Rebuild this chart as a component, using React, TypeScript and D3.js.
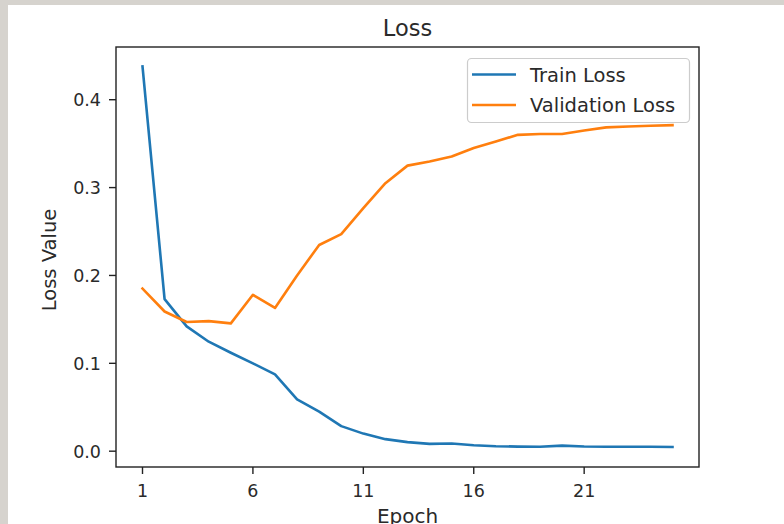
import React from "react";
import * as d3 from "d3";

const epochs = [1, 2, 3, 4, 5, 6, 7, 8, 9, 10, 11, 12, 13, 14, 15, 16, 17, 18, 19, 20, 21, 22, 23, 24, 25];
const trainLoss = [0.438, 0.173, 0.142, 0.1246, 0.112, 0.1, 0.0874, 0.059, 0.045, 0.0285, 0.02, 0.0137, 0.0103, 0.0083, 0.0087, 0.0068, 0.0057, 0.0052, 0.005, 0.0063, 0.0053, 0.005, 0.005, 0.005, 0.0048];
const valLoss = [0.185, 0.159, 0.147, 0.148, 0.1455, 0.178, 0.163, 0.2, 0.2347, 0.247, 0.2766, 0.305, 0.325, 0.3297, 0.3354, 0.345, 0.3525, 0.36, 0.361, 0.361, 0.365, 0.3685, 0.3696, 0.3704, 0.371];
const xTicks = [1, 6, 11, 16, 21];
const yTicks = [0.0, 0.1, 0.2, 0.3, 0.4];
const seriesNames = ["Train Loss", "Validation Loss"];
const seriesColors = ["#1f77b4", "#ff7f0e"];

const W = 784;
const H = 524;
const L = 116, R = 699, T = 47, B = 467;
const FONT = "'DejaVu Sans', sans-serif";
const TXT = "#2a2a2a";

export default function App() {
  const x = d3.scaleLinear().domain([-0.2, 26.2]).range([L, R]);
  const y = d3.scaleLinear().domain([-0.018, 0.46]).range([B, T]);
  const line = d3
    .line<number>()
    .x((_, i) => x(epochs[i]))
    .y((d) => y(d));
  const series = [trainLoss, valLoss];
  return (
    <svg
      width={W}
      height={H}
      style={{ position: "absolute", left: 0, top: 0 }}
      fontFamily={FONT}
    >
      <rect x={0} y={0} width={W} height={H} fill="#d6d3ce" />
      <rect x={8} y={5} width={W - 8} height={H - 5} fill="#ffffff" />
      <rect x={L} y={T} width={R - L} height={B - T} fill="#ffffff" />
      <defs>
        <clipPath id="clip">
          <rect x={L} y={T} width={R - L} height={B - T} />
        </clipPath>
      </defs>
      <g clipPath="url(#clip)">
        {series.map((s, i) => (
          <path
            key={i}
            d={line(s) || ""}
            fill="none"
            stroke={seriesColors[i]}
            strokeWidth={2.6}
            strokeLinejoin="round"
            strokeLinecap="square"
          />
        ))}
      </g>
      <rect x={L} y={T} width={R - L} height={B - T} fill="none" stroke="#222" strokeWidth={1.4} />
      {xTicks.map((t) => (
        <g key={t}>
          <line x1={x(t)} x2={x(t)} y1={B} y2={B + 7} stroke="#222" strokeWidth={1.4} />
          <text x={x(t)} y={496.5} textAnchor="middle" fontSize={17.5} fill={TXT}>
            {t}
          </text>
        </g>
      ))}
      {yTicks.map((t) => (
        <g key={t}>
          <line x1={L - 7} x2={L} y1={y(t)} y2={y(t)} stroke="#222" strokeWidth={1.4} />
          <text x={101} y={y(t) + 6.5} textAnchor="end" fontSize={17.5} fill={TXT}>
            {t.toFixed(1)}
          </text>
        </g>
      ))}
      <text x={(L + R) / 2} y={36} textAnchor="middle" fontSize={22.5} fill={TXT}>
        Loss
      </text>
      <text x={(L + R) / 2} y={523} textAnchor="middle" fontSize={20} fill={TXT}>
        Epoch
      </text>
      <text
        transform={`translate(55.5, ${(T + B) / 2 + 3}) rotate(-90)`}
        textAnchor="middle"
        fontSize={19.5}
        fill={TXT}
      >
        Loss Value
      </text>
      <rect x={467.5} y={58.5} width={222} height={64} rx={4} fill="#fff" fillOpacity={0.8} stroke="#cccccc" strokeWidth={1.2} />
      {seriesNames.map((n, i) => (
        <g key={n}>
          <line x1={472} x2={516} y1={74.5 + i * 30.5} y2={74.5 + i * 30.5} stroke={seriesColors[i]} strokeWidth={2.6} />
          <text x={530} y={74.5 + i * 30.5 + 7} fontSize={19.5} fill={TXT}>
            {n}
          </text>
        </g>
      ))}
    </svg>
  );
}
